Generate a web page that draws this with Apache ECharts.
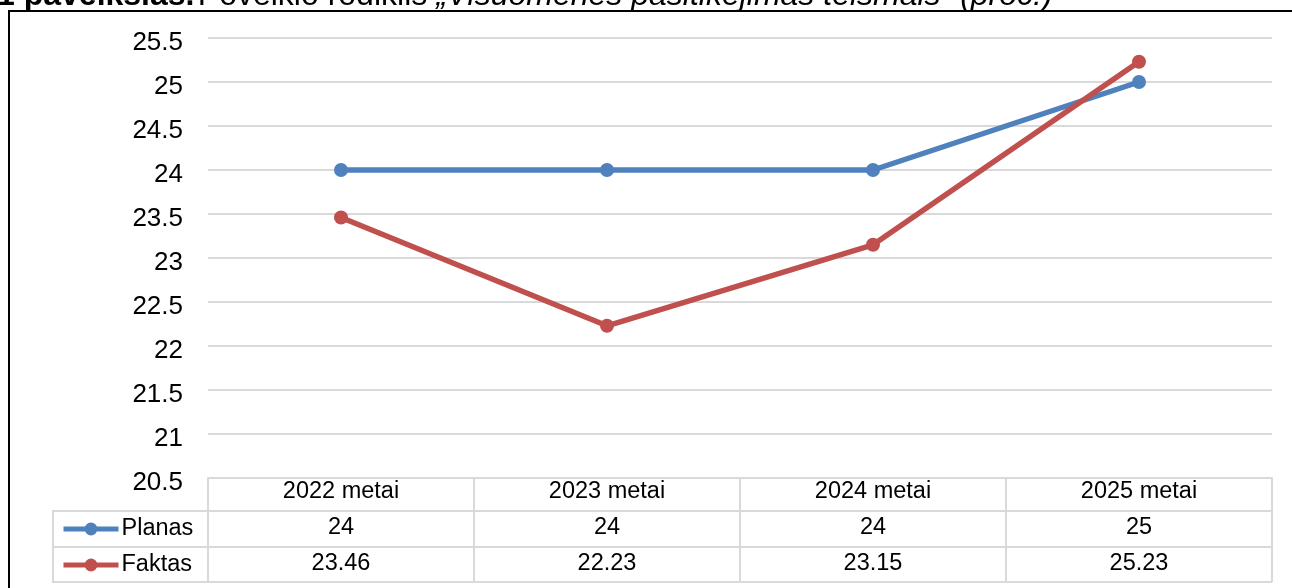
<!DOCTYPE html>
<html>
<head>
<meta charset="utf-8">
<script src="https://cdn.jsdelivr.net/npm/echarts@6/dist/echarts.min.js"></script>
<style>
html,body{margin:0;padding:0;background:#fff;}
#c{width:1292px;height:588px;}
</style>
</head>
<body>
<div id="c"></div>
<script>
const categories = ['2022 metai', '2023 metai', '2024 metai', '2025 metai'];
const planas = [24, 24, 24, 25];
const faktas = [23.46, 22.23, 23.15, 25.23];
const seriesNames = ['Planas', 'Faktas'];
const yMin = 20.5, yMax = 25.5, yStep = 0.5;

const blue = '#4F81BD', red = '#C0504D', gridGrey = '#D9D9D9';
const FONT = '"Liberation Sans", Arial, sans-serif';

const chart = echarts.init(document.getElementById('c'), null, {renderer: 'canvas'});

chart.setOption({
  animation: false,
  backgroundColor: '#fff',
  textStyle: {fontFamily: FONT},
  grid: {left: 208, right: 20, top: 38, bottom: 110},
  legend: {
    orient: 'vertical',
    left: 61, top: 517, padding: 0,
    itemWidth: 55, itemHeight: 16, itemGap: 12,
    lineStyle: {width: 5},
    itemStyle: {borderWidth: 0},
    textStyle: {fontFamily: FONT, fontSize: 23.5, color: '#000', lineHeight: 24, padding: [0, 0, 0, -2]},
    data: seriesNames
  },
  xAxis: {
    type: 'category',
    data: categories,
    boundaryGap: true,
    axisLine: {show: true, lineStyle: {color: gridGrey, width: 2}},
    axisTick: {show: true, length: 104, lineStyle: {color: gridGrey, width: 2}},
    axisLabel: {
      margin: -4,
      interval: 0,
      formatter: function (v, i) {
        return '{c|' + v + '}\n{c|' + planas[i] + '}\n{c|' + faktas[i] + '}';
      },
      rich: {c: {fontFamily: FONT, fontSize: 23.5, color: '#000', lineHeight: 36, align: 'center'}}
    }
  },
  yAxis: {
    type: 'value',
    min: yMin, max: yMax, interval: yStep,
    axisLine: {show: false},
    axisTick: {show: false},
    axisLabel: {
      margin: 25,
      formatter: function (v) { return '{a|' + v + '}'; },
      rich: {a: {fontFamily: FONT, fontSize: 26, color: '#000', padding: [9, 0, 0, 0]}}
    },
    splitLine: {lineStyle: {color: gridGrey, width: 2}}
  },
  series: [
    {name: seriesNames[0], type: 'line', data: planas, color: blue,
     symbol: 'circle', symbolSize: 14, lineStyle: {width: 5.5, color: blue}, itemStyle: {color: blue}},
    {name: seriesNames[1], type: 'line', data: faktas, color: red,
     symbol: 'circle', symbolSize: 14, lineStyle: {width: 5.5, color: red}, itemStyle: {color: red}}
  ],
  graphic: [
    {type: 'rect', shape: {x: 9, y: 11, width: 1400, height: 700}, style: {fill: 'none', stroke: '#000', lineWidth: 2}, z: 100},
    {type: 'line', shape: {x1: 53, y1: 511, x2: 1272, y2: 511}, style: {stroke: gridGrey, lineWidth: 2}},
    {type: 'line', shape: {x1: 53, y1: 547, x2: 1272, y2: 547}, style: {stroke: gridGrey, lineWidth: 2}},
    {type: 'line', shape: {x1: 53, y1: 582, x2: 1272, y2: 582}, style: {stroke: gridGrey, lineWidth: 2}},
    {type: 'line', shape: {x1: 53, y1: 510, x2: 53, y2: 583}, style: {stroke: gridGrey, lineWidth: 2}},
    {type: 'text', x: -3, y: -20, z: 100,
     style: {
       text: '{b|1 paveikslas.} {n|Poveikio rodiklis }{i|„Visuomenės pasitikėjimas teismais“ (proc.)}',
       rich: {
         b: {fontFamily: FONT, fontSize: 32, fontWeight: 'bold', fill: '#000', lineHeight: 32},
         n: {fontFamily: FONT, fontSize: 32, fill: '#000', lineHeight: 32},
         i: {fontFamily: FONT, fontSize: 32, fontStyle: 'italic', fill: '#000', lineHeight: 32}
       }
     }}
  ]
});
</script>
</body>
</html>
